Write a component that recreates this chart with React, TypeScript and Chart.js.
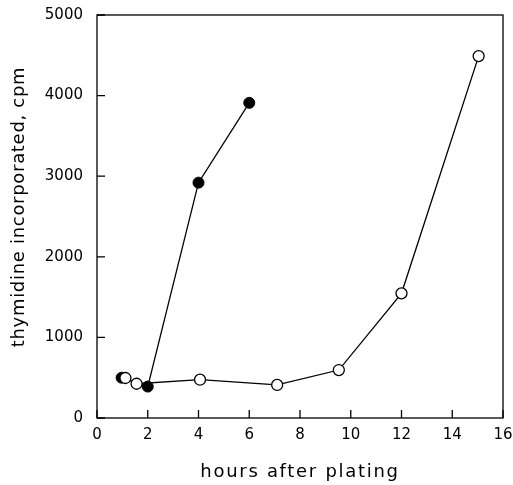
import React, { useEffect, useRef } from "react";
import { Chart, registerables } from "chart.js";

Chart.register(...registerables);

const filledHours = [0.97, 2.0, 4.0, 6.0];
const filledCpm = [500, 390, 2920, 3910];
const openHours = [1.12, 1.56, 4.06, 7.1, 9.53, 12.0, 15.04];
const openCpm = [496, 425, 475, 410, 595, 1547, 4490];
const xTicks = [0, 2, 4, 6, 8, 10, 12, 14, 16];
const yTicks = [0, 1000, 2000, 3000, 4000, 5000];
const xTitle = "hours after plating";
const yTitle = "thymidine incorporated, cpm";

const FONT = "'DejaVu Sans', sans-serif";

const framePlugin = {
  id: "frame",
  afterDatasetsDraw(chart: any) {
    const { ctx, chartArea, scales } = chart;
    const { left, right, top, bottom } = chartArea;
    ctx.save();
    ctx.strokeStyle = "#000";
    ctx.lineWidth = 1.3;
    ctx.strokeRect(left, top, right - left, bottom - top);
    const tl = 8;
    ctx.beginPath();
    for (const v of xTicks) {
      const x = scales.x.getPixelForValue(v);
      ctx.moveTo(x, bottom);
      ctx.lineTo(x, bottom - tl);
    }
    for (const v of yTicks) {
      const y = scales.y.getPixelForValue(v);
      ctx.moveTo(left, y);
      ctx.lineTo(left + tl, y);
    }
    ctx.stroke();
    ctx.restore();
  },
  afterDraw(chart: any) {
    const { ctx, chartArea } = chart;
    ctx.save();
    ctx.fillStyle = "#000";
    ctx.font = `18px ${FONT}`;
    ctx.textAlign = "center";
    ctx.textBaseline = "alphabetic";
    (ctx as any).letterSpacing = "1.7px";
    ctx.fillText(xTitle, (chartArea.left + chartArea.right) / 2, 476.5);
    (ctx as any).letterSpacing = "0.7px";
    ctx.translate(23.5, 207);
    ctx.rotate(-Math.PI / 2);
    ctx.fillText(yTitle, 0, 0);
    ctx.restore();
  },
};

export default function App() {
  const ref = useRef<HTMLCanvasElement>(null);
  useEffect(() => {
    const canvas = ref.current!;
    const chart = new Chart(canvas, {
      type: "scatter",
      data: {
        datasets: [
          {
            label: "open",
            data: openHours.map((x, i) => ({ x, y: openCpm[i] })),
            showLine: true,
            borderColor: "#000",
            borderWidth: 1.3,
            pointRadius: 5.5,
            pointBorderWidth: 1.3,
            pointBackgroundColor: "#fff",
            pointBorderColor: "#000",
          },
          {
            label: "filled",
            data: filledHours.map((x, i) => ({ x, y: filledCpm[i] })),
            showLine: true,
            borderColor: "#000",
            borderWidth: 1.3,
            pointRadius: 5.5,
            pointBorderWidth: 1,
            pointBackgroundColor: "#000",
            pointBorderColor: "#000",
          },
        ],
      },
      options: {
        animation: false,
        responsive: false,
        maintainAspectRatio: false,
        layout: { padding: { top: 15, right: 10, left: 0, bottom: 0 } },
        plugins: { legend: { display: false }, tooltip: { enabled: false } },
        scales: {
          x: {
            type: "linear",
            min: 0,
            max: 16,
            afterBuildTicks: (s: any) => {
              s.ticks = xTicks.map((v) => ({ value: v }));
            },
            afterFit: (s: any) => {
              s.height = 67;
              s.paddingLeft = 0;
              s.paddingRight = 0;
            },
            grid: { display: false, drawTicks: false },
            border: { display: false },
            ticks: {
              color: "#000",
              font: { family: FONT, size: 15 },
              padding: 8,
              maxRotation: 0,
              callback: (v: any) => String(v),
            },
          },
          y: {
            type: "linear",
            min: 0,
            max: 5000,
            afterBuildTicks: (s: any) => {
              s.ticks = yTicks.map((v) => ({ value: v }));
            },
            afterFit: (s: any) => {
              s.width = 97;
              s.paddingTop = 0;
              s.paddingBottom = 0;
            },
            grid: { display: false, drawTicks: false },
            border: { display: false },
            ticks: {
              color: "#000",
              font: { family: FONT, size: 15 },
              padding: 14,
              callback: (v: any) => String(v),
            },
          },
        },
      },
      plugins: [framePlugin],
    });
    return () => chart.destroy();
  }, []);
  return (
    <div style={{ position: "absolute", left: 0, top: 0, width: 513, height: 485, background: "#fff" }}>
      <canvas ref={ref} width={513} height={485} style={{ display: "block" }} />
    </div>
  );
}
